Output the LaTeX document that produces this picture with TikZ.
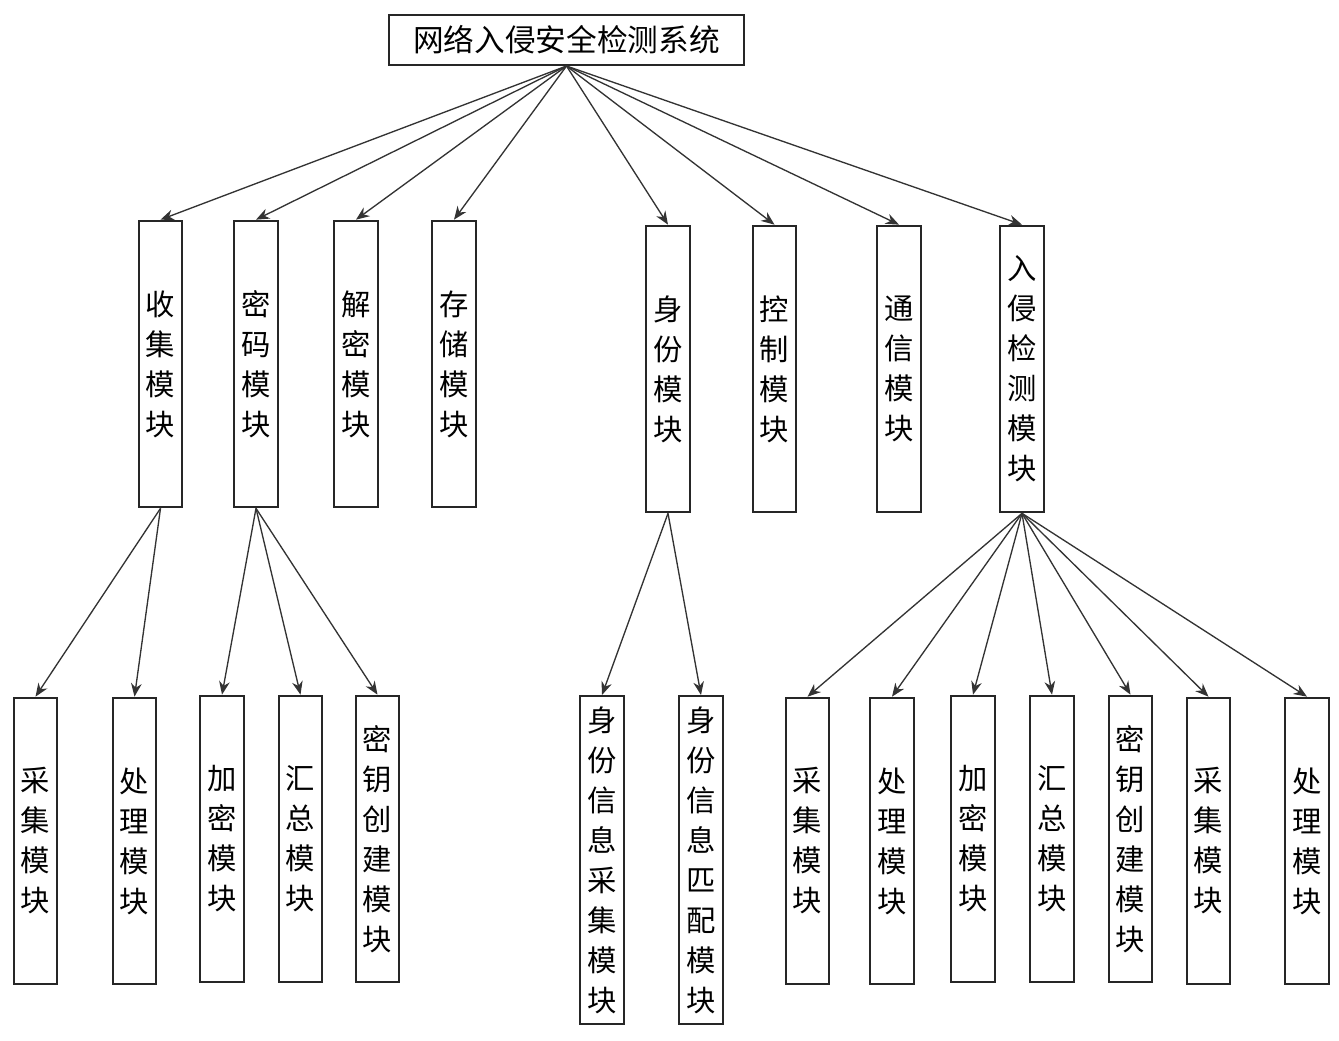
\documentclass[tikz,border=0pt]{standalone}
\usepackage{fontspec}
\setmainfont{Noto Sans CJK SC}
\usetikzlibrary{arrows.meta}

\tikzset{
  mod/.style={draw=black!85,line width=1.5pt,inner sep=0pt,align=center,
    minimum width=32.5pt,minimum height=215pt,
    font=\fontsize{22}{30}\selectfont},
  tallmod/.style={mod,minimum height=246pt},
  arr/.style={draw=black!80,line width=1pt,-{Stealth[length=10pt,width=8pt]}}
}

\begin{document}
\begin{tikzpicture}[x=0.75pt,y=-0.75pt]
  \useasboundingbox (0,0) rectangle (1339,1040);
  % top
  \node[draw=black!85,line width=1.5pt,minimum width=266pt,minimum height=37.5pt,
    inner sep=0pt,font=\fontsize{23}{28}\selectfont] (sys) at (566.5,40) {网络入侵安全检测系统};
  % second row
  \node[mod] (shouji) at (160.5,364) {收\\集\\模\\块};
  \node[mod] (mima)   at (256,364)   {密\\码\\模\\块};
  \node[mod] (jiemi)  at (356,364)   {解\\密\\模\\块};
  \node[mod] (cunchu) at (454,364)   {存\\储\\模\\块};
  \node[mod] (shenfen) at (668,369)  {身\\份\\模\\块};
  \node[mod] (kongzhi) at (774.5,369) {控\\制\\模\\块};
  \node[mod] (tongxin) at (899,369)  {通\\信\\模\\块};
  \node[mod] (ruqin)   at (1022,369) {入\\侵\\检\\测\\模\\块};
  % third row
  \node[mod] (caiji1)  at (35.5,841)  {采\\集\\模\\块};
  \node[mod] (chuli1)  at (134.5,841) {处\\理\\模\\块};
  \node[mod] (jiami1)  at (222,839)   {加\\密\\模\\块};
  \node[mod] (huizong1) at (300.5,839) {汇\\总\\模\\块};
  \node[mod] (miyao1)  at (377.5,839) {密\\钥\\创\\建\\模\\块};
  \node[tallmod] (sfcaiji) at (602,860) {身\\份\\信\\息\\采\\集\\模\\块};
  \node[tallmod] (sfpipei) at (701,860) {身\\份\\信\\息\\匹\\配\\模\\块};
  \node[mod] (caiji2)  at (807.5,841) {采\\集\\模\\块};
  \node[mod] (chuli2)  at (892,841)   {处\\理\\模\\块};
  \node[mod] (jiami2)  at (973,839)   {加\\密\\模\\块};
  \node[mod] (huizong2) at (1052,839) {汇\\总\\模\\块};
  \node[mod] (miyao2)  at (1130.5,839) {密\\钥\\创\\建\\模\\块};
  \node[mod] (caiji3)  at (1208.5,841) {采\\集\\模\\块};
  \node[mod] (chuli3)  at (1307,841)  {处\\理\\模\\块};
  % arrows
  \foreach \n in {shouji,mima,jiemi,cunchu,shenfen,kongzhi,tongxin,ruqin}
    \draw[arr] (sys.south) -- (\n.north);
  \foreach \n in {caiji1,chuli1}
    \draw[arr] (shouji.south) -- (\n.north);
  \foreach \n in {jiami1,huizong1,miyao1}
    \draw[arr] (mima.south) -- (\n.north);
  \foreach \n in {sfcaiji,sfpipei}
    \draw[arr] (shenfen.south) -- (\n.north);
  \foreach \n in {caiji2,chuli2,jiami2,huizong2,miyao2,caiji3,chuli3}
    \draw[arr] (ruqin.south) -- (\n.north);
\end{tikzpicture}
\end{document}
